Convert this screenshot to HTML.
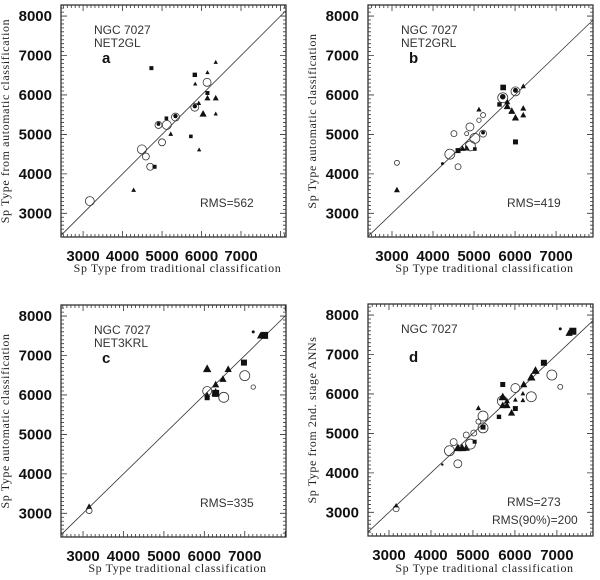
<!DOCTYPE html>
<html><head><meta charset="utf-8"><style>
body{margin:0;background:#fff;}
svg{display:block;}
.tk{font-family:"Liberation Sans",sans-serif;font-weight:bold;font-size:15px;fill:#111;}
.ti{font-family:"Liberation Serif",serif;font-size:12px;fill:#222;letter-spacing:0.6px;}
.an{font-family:"Liberation Sans",sans-serif;font-size:12px;fill:#333;}
</style></head><body>
<svg id="fig" width="600" height="580" viewBox="0 0 600 580"></svg>
<script>
// Panel a data: [x, y, type, size]  type: s=square, t=triangle, c=open circle, d=dot, cf=circle with filled inner
const ptsA=[[3170,3310,'c',4.5],[4280,3590,'t',2],[4490,4620,'c',4.5],[4590,4440,'c',3.5],[4700,4180,'c',3.5],[4810,4180,'s',2],[5000,4800,'c',3.5],[4910,5240,'cf',3.5],[5120,5240,'c',4.5],[5110,5410,'s',1.8],[5220,5010,'t',2],[5340,5440,'cf',4],[5730,4950,'s',1.8],[5940,4610,'t',1.8],[5830,5690,'cf',4],[5930,5790,'t',2],[6040,5520,'t',3],[5830,6510,'s',2.2],[5840,6280,'t',1.8],[4730,6680,'s',2],[6150,6570,'t',1.8],[6140,6320,'c',4],[6150,6050,'s',2],[6150,5920,'t',2.5],[6360,5920,'t',2.5],[6360,5520,'t',1.8],[6360,6830,'t',1.8]];
const ptsB=[[3120,4280,'c',2.5],[3120,3590,'t',2.5],[4230,4260,'d',1.5],[4410,4500,'c',5],[4610,4590,'s',2.5],[4720,4640,'t',2.5],[4820,4650,'t',2.5],[4510,5020,'c',3],[4610,4180,'c',3],[4910,4710,'c',5],[5020,4900,'c',5],[4900,5190,'c',4],[4820,5020,'c',2],[5020,4630,'s',1.8],[5120,5630,'t',2.2],[5120,5360,'c',2.2],[5220,5490,'c',2.5],[5220,5020,'cf',3.5],[5620,5760,'s',2.2],[5700,5930,'cf',5],[5710,6190,'s',2.8],[5810,5710,'t',3],[5810,5820,'t',2.5],[5920,5590,'t',3],[6010,6090,'cf',4.5],[6010,5420,'t',3],[6010,4810,'s',2.5],[6200,6220,'t',2.2],[6200,5660,'t',2.5],[6200,5490,'t',2.5]];
const ptsC=[[3150,3170,'t',2.5],[3150,3070,'c',3],[6070,6660,'t',3.5],[6070,6100,'c',4.5],[6070,5930,'s',2.5],[6070,6000,'t',2.5],[6280,6260,'t',3],[6280,6040,'s',3.5],[6280,6060,'t',3.5],[6480,5940,'c',5],[6460,6400,'t',3],[6590,6650,'t',3],[6980,6820,'s',3],[7000,6490,'c',5],[7210,6200,'c',2.2],[7210,7600,'d',1.5],[7390,7500,'t',3],[7490,7510,'s',3.5]];
const ptsD=[[3170,3090,'c',3],[3170,3170,'t',2],[4270,4210,'d',1.2],[4440,4560,'c',5],[4540,4780,'c',3.5],[4640,4230,'c',4],[4640,4630,'t',3.5],[4740,4630,'t',3.5],[4840,4630,'t',3],[4940,4730,'c',5],[4840,4960,'c',3],[5020,5010,'c',3],[5040,4790,'s',2],[5130,5300,'c',2.5],[5130,5640,'t',2.2],[5240,5440,'c',5],[5240,5140,'c',5],[5240,5160,'s',2.5],[5620,5420,'s',2.2],[5700,5820,'c',5],[5710,6240,'s',2.5],[5710,5920,'t',3.5],[5710,5710,'t',3],[5810,5710,'t',3],[5810,5820,'t',2.5],[5920,5520,'t',3],[6010,5630,'s',2.5],[6010,6150,'c',4.5],[6010,5850,'t',2],[6190,6010,'t',2],[6190,5840,'t',2],[6390,5930,'c',5],[6210,6240,'t',3],[6390,6420,'t',3.5],[6490,6590,'t',3.5],[6690,6790,'s',3],[6880,6480,'c',5],[7080,6180,'c',2.5],[7080,7650,'d',1.5],[7290,7540,'t',3],[7380,7590,'s',3.5]];
const xTicks=[3000,4000,5000,6000,7000];
const yTicks=[3000,4000,5000,6000,7000,8000];

const NS='http://www.w3.org/2000/svg';
const fig=document.getElementById('fig');
function mk(tag,attrs,parent){const e=document.createElementNS(NS,tag);for(const k in attrs)e.setAttribute(k,attrs[k]);(parent||fig).appendChild(e);return e;}

const panels=[
 {id:'a',box:[61,5,286,237],xd:[2440,8140],yd:[2400,8280],pts:ptsA,ytitle:'Sp Type from automatic classification',xtitle:'Sp Type from traditional classification',xtY:272,ann:['NGC 7027','NET2GL'],rms:['RMS=562'],lbl:'a'},
 {id:'b',box:[368,5,593,237],xd:[2415,7900],yd:[2400,8280],pts:ptsB,ytitle:'Sp Type automatic classification',xtitle:'Sp Type traditional classification',xtY:272,ann:['NGC 7027','NET2GRL'],rms:['RMS=419'],lbl:'b'},
 {id:'c',box:[61,305,286,537],xd:[2455,8020],yd:[2400,8280],pts:ptsC,ytitle:'Sp Type automatic classification',xtitle:'Sp Type traditional classification',xtY:572,ann:['NGC 7027','NET3KRL'],rms:['RMS=335'],lbl:'c'},
 {id:'d',box:[368,304,593,536],xd:[2500,7860],yd:[2400,8280],pts:ptsD,ytitle:'Sp Type from 2nd. stage ANNs',xtitle:'Sp Type traditional classification',xtY:572,ann:['NGC 7027'],rms:['RMS=273','RMS(90%)=200'],lbl:'d'}
];

panels.forEach(p=>{
 const [x0,y0,x1,y1]=p.box;
 const sx=v=>x0+(v-p.xd[0])/(p.xd[1]-p.xd[0])*(x1-x0);
 const sy=v=>y1-(v-p.yd[0])/(p.yd[1]-p.yd[0])*(y1-y0);
 const g=mk('g',{});
 
 
 const fr=mk('rect',{x:x0,y:y0,width:x1-x0,height:y1-y0,fill:'none',stroke:'#222','stroke-width':1.2},g);
 
 
 // minor/major ticks
 let d='';
 for(let v=Math.ceil(p.xd[0]/100)*100;v<=p.xd[1];v+=100){const X=sx(v);const L=(v%1000===0)?6:3;d+=`M${X},${y1}v${-L}M${X},${y0}v${L}`;}
 for(let v=Math.ceil(p.yd[0]/100)*100;v<=p.yd[1];v+=100){const Y=sy(v);const L=(v%1000===0)?6:3;d+=`M${x0},${Y}h${L}M${x1},${Y}h${-L}`;}
 const tk=mk('path',{d:d,stroke:'#333','stroke-width':0.8,fill:'none'},g);
 
 
 xTicks.forEach(v=>{const t=mk('text',{x:sx(v),y:y1+24,'text-anchor':'middle',class:'tk'},g);t.textContent=v;
  
  });
 yTicks.forEach(v=>{const t=mk('text',{x:x0-9,y:sy(v)+5,'text-anchor':'end',class:'tk'},g);t.textContent=v;
  
  });
 const xt=mk('text',{x:(x0+x1)/2+4,y:p.xtY,'text-anchor':'middle',class:'ti'},g);xt.textContent=p.xtitle;
 
 
 const cy=(y0+y1)/2, cx=x0-52;
 const yt=mk('text',{x:cx,y:cy,'text-anchor':'middle',class:'ti',transform:`rotate(-90 ${cx} ${cy})`},g);yt.textContent=p.ytitle;
 
 
 // diagonal y=x
 const lo=Math.max(p.xd[0],p.yd[0]), hi=Math.min(p.xd[1],p.yd[1]);
 const dl=mk('line',{x1:sx(lo),y1:sy(lo),x2:sx(hi),y2:sy(hi),stroke:'#333','stroke-width':0.8},g);
 
 
 // annotations
 p.ann.forEach((s,i)=>{const t=mk('text',{x:x0+33,y:y0+29+i*13,class:'an'},g);t.textContent=s;
  
  });
 const lb=mk('text',{x:x0+41,y:y0+58,class:'tk','font-weight':'normal','font-size':'17'},g);lb.textContent=p.lbl;
 
 
 p.rms.forEach((s,i)=>{const t=mk('text',{x:x0+(i?124:139),y:y1-30+i*18,class:'an','font-size':i?11:13},g);t.textContent=s;
  
  });
 // points
 p.pts.forEach(q=>{
  const X=sx(q[0]),Y=sy(q[1]),r=q[3];let e;
  if(q[2]==='s'){e=mk('rect',{x:X-r,y:Y-r,width:2*r,height:2*r,fill:'#111'},g);}
  else if(q[2]==='t'){e=mk('path',{d:`M${X},${Y-r*1.3}L${X+r*1.2},${Y+r*0.9}L${X-r*1.2},${Y+r*0.9}Z`,fill:'#111'},g);}
  else if(q[2]==='d'){e=mk('circle',{cx:X,cy:Y,r:r,fill:'#111'},g);}
  else{e=mk('circle',{cx:X,cy:Y,r:r,fill:'none',stroke:'#333','stroke-width':0.8},g);
   if(q[2]==='cf'){mk('circle',{cx:X,cy:Y-1,r:r*0.55,fill:'#111'},g);}}
  
  
 });
});
</script>
</body></html>
